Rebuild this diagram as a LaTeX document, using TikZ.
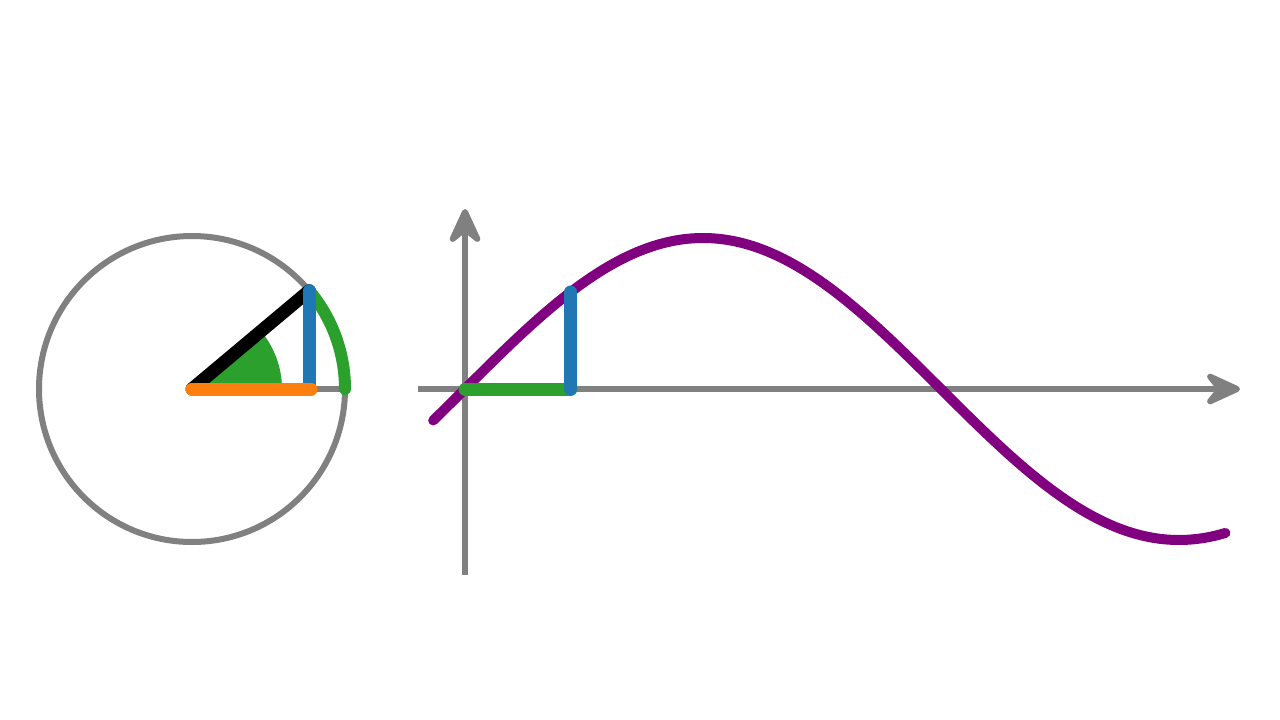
\documentclass[tikz,border=0pt]{standalone}
\usetikzlibrary{arrows.meta}
\definecolor{axisgray}{HTML}{808080}
\definecolor{tblue}{HTML}{1F77B4}
\definecolor{torange}{HTML}{FF7F0E}
\definecolor{tgreen}{HTML}{2CA02C}
\definecolor{tpurple}{HTML}{800080}
\tikzset{
  axisline/.style={draw=axisgray, line width=6pt},
  thickseg/.style={line width=13pt, line cap=round},
  arrowtip/.style={-{Stealth[round, length=44pt, width=40pt, inset=16pt]}}
}
\begin{document}
\begin{tikzpicture}[x=1pt,y=-1pt]
\useasboundingbox[fill=white] (0,0) rectangle (1280,720);
% circle part
\coordinate (C) at (192,389);
\coordinate (E) at (345,389);
\draw[axisline] (C) circle (153);
\draw[axisline] (C) -- (E);
\fill[tgreen] (C) -- ++(90,0) arc[start angle=0, end angle=-40, radius=90] -- cycle;
\draw[tgreen, thickseg, line width=12pt] (E) arc[start angle=0, end angle=-40, radius=153];
\coordinate (P) at (309.2,290.7);
\coordinate (Pb) at (309.2,389);
\coordinate (Oe) at (311,389);
\draw[black, thickseg] (C) -- (P);
\draw[tblue, thickseg] (P) -- (Pb);
\draw[torange, thickseg] (C) -- (Oe);
% graph part
\coordinate (O) at (465,389);
\coordinate (Ybot) at (465,575);
\coordinate (Ytop) at (465,209);
\coordinate (Xl) at (418,389);
\coordinate (Xr) at (1240,389);
\draw[axisline, arrowtip] (Ybot) -- (Ytop);
\draw[axisline, arrowtip] (Xl) -- (Xr);
\draw[tpurple, line width=10pt, line cap=round, domain=-0.21:5.02, samples=200, smooth]
  plot ({465+151.5*\x}, {389-151*sin(\x r)});
\coordinate (G) at (570.8,389);
\coordinate (Gt) at (570.8,292);
\draw[tgreen, thickseg] (O) -- (G);
\draw[tblue, thickseg] (G) -- (Gt);
\end{tikzpicture}
\end{document}
